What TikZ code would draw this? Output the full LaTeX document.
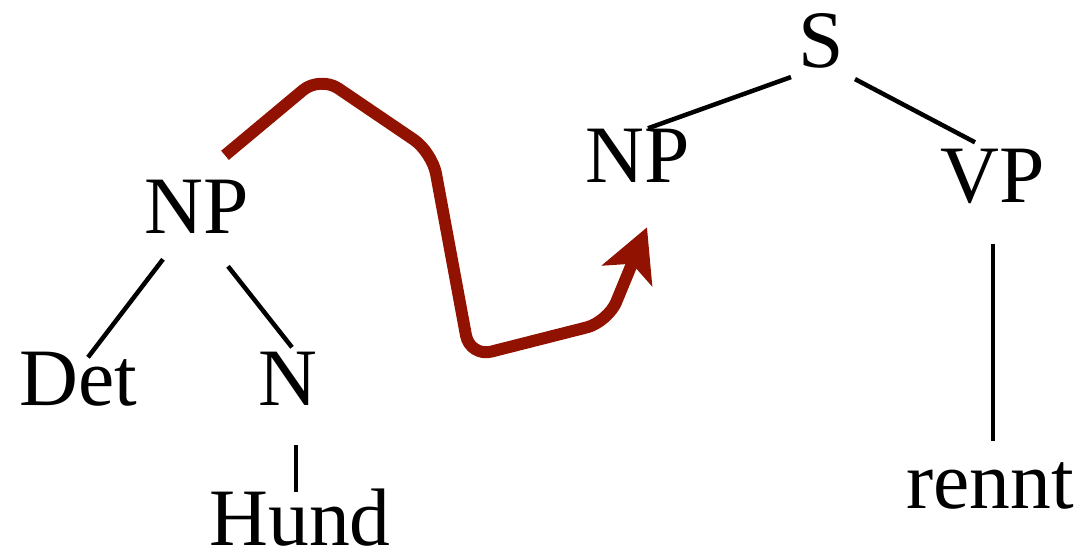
\documentclass[tikz,border=0pt]{standalone}
\usepackage{fontspec}
\setmainfont{Liberation Serif}
\usepackage{xcolor}
\usepackage{tikz}
\usetikzlibrary{arrows.meta}

\definecolor{movered}{RGB}{145,18,0}

\begin{document}
\begin{tikzpicture}[
    x=0.025cm, y=-0.025cm,
    font=\fontsize{58}{60}\selectfont,
    cat/.style={inner sep=0pt, anchor=base},
    branch/.style={line width=3.2pt},
    movearrow/.style={
        -{Stealth[length=37pt, width=38pt, inset=9pt]},
        line width=8.5pt,
        color=movered,
        rounded corners=0.55cm,
        line join=round
    }
]
\useasboundingbox (0,0) rectangle (1088,553);

% === LEFT TREE: the moved NP ===
\node (npl)  [cat] at (197,233) {NP};
\node (det)  [cat] at (78,405)  {Det};
\node (n)    [cat] at (288,405) {N};
\node (hund) [cat] at (300,545) {Hund};

\draw [branch] ([shift={(-34,26)}]npl.south) -- ([shift={(10,6)}]det.north);
\draw [branch] ([shift={(31,33)}]npl.south) -- ([shift={(4,-4)}]n.north);
\draw [branch] ([shift={(8,40)}]n.south) -- ([shift={(-4,4)}]hund.north);

% === RIGHT TREE: the sentence ===
\node (s)     [cat] at (821,67)  {S};
\node (npr)   [cat] at (638,182) {NP};
\node (vp)    [cat] at (993,202) {VP};
\node (rennt) [cat] at (990,508) {rennt};

\draw [branch] ([shift={(-30,9)}]s.south) -- ([shift={(10,0)}]npr.north);
\draw [branch] ([shift={(34,11)}]s.south) -- ([shift={(-18,-6)}]vp.north);
\draw [branch] ([shift={(0,40)}]vp.south) -- ([shift={(3,-21)}]rennt.north);

% === SUBSTITUTION ARROW ===
\draw [movearrow] ([shift={(28,-24)}]npl.north) -- (320,76) -- (432,152)
    -- (470,357) -- (608,322) -- ([shift={(9,45)}]npr.south);

\end{tikzpicture}
\end{document}
